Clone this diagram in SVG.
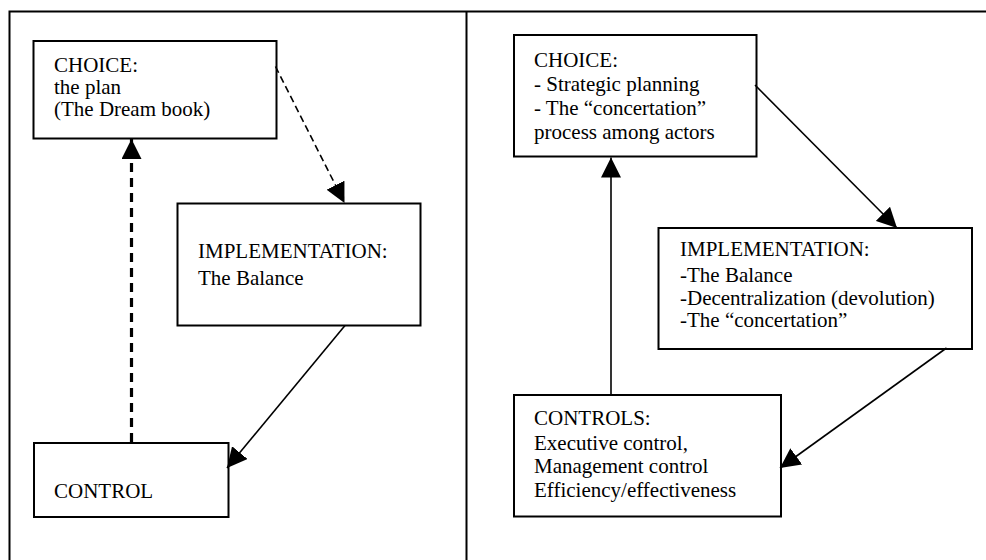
<svg xmlns="http://www.w3.org/2000/svg" width="986" height="560" viewBox="0 0 986 560">
  <style>
    .frame { fill: none; stroke: #000; stroke-width: 2; }
    .box { fill: #fff; stroke: #000; stroke-width: 2; }
    .label { font-family: "Liberation Serif", "Times New Roman", serif; font-size: 21px; fill: #000; }
    .solid { fill: none; stroke: #000; stroke-width: 1.6; }
    .dash-thin { fill: none; stroke: #000; stroke-width: 1.6; stroke-dasharray: 7 4; }
    .dash-thick { fill: none; stroke: #000; stroke-width: 3.2; stroke-dasharray: 9 6; }
  </style>
  <defs>
    <marker id="head" markerUnits="userSpaceOnUse" markerWidth="21" markerHeight="20" refX="20" refY="10" orient="auto" viewBox="0 0 21 20">
      <path d="M0,0 L20,10 L0,20 z" fill="#000" stroke="none"/>
    </marker>
  </defs>

  <rect width="986" height="560" fill="#fff"/>

  <!-- outer frame split into two panels -->
  <g id="frame">
    <path class="frame" d="M9.5,560 V11.5 H986"/>
    <path class="frame" d="M466.5,11.5 V560"/>
  </g>

  <!-- left panel nodes -->
  <g id="left-choice">
    <rect class="box" x="33.5" y="41" width="243" height="97.5"/>
    <text class="label" x="54" y="71.5">CHOICE:</text>
    <text class="label" x="54" y="93.5">the plan</text>
    <text class="label" x="54" y="115.5">(The Dream book)</text>
  </g>
  <g id="left-implementation">
    <rect class="box" x="177.5" y="203.5" width="243" height="122"/>
    <text class="label" x="198" y="258">IMPLEMENTATION:</text>
    <text class="label" x="198" y="285">The Balance</text>
  </g>
  <g id="left-control">
    <rect class="box" x="34" y="443" width="194.5" height="74"/>
    <text class="label" x="54" y="498">CONTROL</text>
  </g>

  <!-- right panel nodes -->
  <g id="right-choice">
    <rect class="box" x="514" y="35" width="242.5" height="121.5"/>
    <text class="label" x="534" y="66.5">CHOICE:</text>
    <text class="label" x="534" y="90.5">- Strategic planning</text>
    <text class="label" x="534" y="114.5">- The “concertation”</text>
    <text class="label" x="534" y="138.5">process among actors</text>
  </g>
  <g id="right-implementation">
    <rect class="box" x="658.5" y="228" width="313.5" height="121"/>
    <text class="label" x="680" y="256">IMPLEMENTATION:</text>
    <text class="label" x="680" y="281.5">-The Balance</text>
    <text class="label" x="680" y="304.5">-Decentralization (devolution)</text>
    <text class="label" x="680" y="327">-The “concertation”</text>
  </g>
  <g id="right-controls">
    <rect class="box" x="514" y="395" width="267" height="121.5"/>
    <text class="label" x="534" y="425">CONTROLS:</text>
    <text class="label" x="534" y="449.5">Executive control,</text>
    <text class="label" x="534" y="473">Management control</text>
    <text class="label" x="534" y="497">Efficiency/effectiveness</text>
  </g>

  <!-- connectors -->
  <g id="connectors">
    <line class="dash-thin" x1="275.5" y1="66.5" x2="344.5" y2="203" marker-end="url(#head)"/>
    <line class="solid" x1="345" y1="325.5" x2="227" y2="468" marker-end="url(#head)"/>
    <line class="dash-thick" x1="131.5" y1="442" x2="131.5" y2="139" marker-end="url(#head)"/>

    <line class="solid" x1="755" y1="85" x2="897" y2="228" marker-end="url(#head)"/>
    <line class="solid" x1="946.5" y1="348" x2="780" y2="468" marker-end="url(#head)"/>
    <line class="solid" x1="611" y1="394" x2="611" y2="157.5" marker-end="url(#head)"/>
  </g>
</svg>
